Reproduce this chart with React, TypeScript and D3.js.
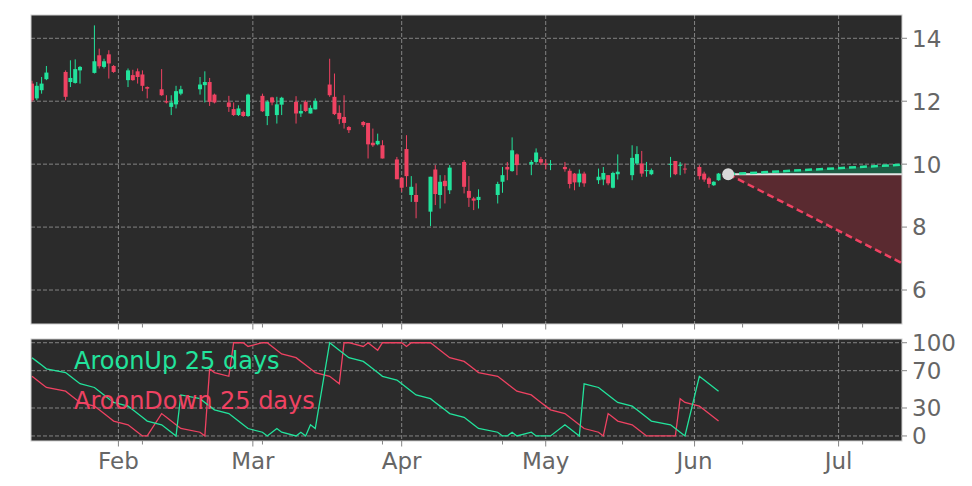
import React from "react";
import * as d3 from "d3";

const dates = [
  "2025-01-14","2025-01-15","2025-01-16","2025-01-17","2025-01-21","2025-01-22","2025-01-23","2025-01-24","2025-01-27","2025-01-28","2025-01-29","2025-01-30","2025-01-31",
  "2025-02-03","2025-02-04","2025-02-05","2025-02-06","2025-02-07","2025-02-10","2025-02-11","2025-02-12","2025-02-13","2025-02-14","2025-02-18","2025-02-19","2025-02-20","2025-02-21","2025-02-24","2025-02-25","2025-02-26","2025-02-27","2025-02-28",
  "2025-03-03","2025-03-04","2025-03-05","2025-03-06","2025-03-07","2025-03-10","2025-03-11","2025-03-12","2025-03-13","2025-03-14","2025-03-17","2025-03-18","2025-03-19","2025-03-20","2025-03-21","2025-03-24","2025-03-25","2025-03-26","2025-03-27","2025-03-28","2025-03-31",
  "2025-04-01","2025-04-02","2025-04-03","2025-04-04","2025-04-07","2025-04-08","2025-04-09","2025-04-10","2025-04-11","2025-04-14","2025-04-15","2025-04-16","2025-04-17","2025-04-21","2025-04-22","2025-04-23","2025-04-24","2025-04-25","2025-04-28","2025-04-29","2025-04-30",
  "2025-05-01","2025-05-02","2025-05-05","2025-05-06","2025-05-07","2025-05-08","2025-05-09","2025-05-12","2025-05-13","2025-05-14","2025-05-15","2025-05-16","2025-05-19","2025-05-20","2025-05-21","2025-05-22","2025-05-23","2025-05-27","2025-05-28","2025-05-29","2025-05-30",
  "2025-06-02","2025-06-03","2025-06-04","2025-06-05","2025-06-06",
];

const opens = [
  12.56, 12.09, 12.35, 12.70, 12.93, 12.61, 12.58, 12.98, 12.90, 13.46, 13.09, 13.49, 13.12,
  12.67, 12.83, 12.95, 12.85, 12.45, 12.38, 12.00, 11.82, 11.90, 12.24, 12.38, 12.51, 12.61, 12.21, 11.96, 11.75, 11.56, 11.66, 11.53,
  12.17, 11.53, 12.12, 11.56, 11.89, 11.98, 11.61, 11.98, 11.61, 11.74, 12.53, 12.14, 11.63, 11.50, 11.18, 11.34, 11.31, 10.68, 10.63, 10.60, 10.15,
  9.57, 10.48, 9.02, 9.02, 8.49, 9.83, 9.02, 9.47, 9.17, 10.07, 9.15, 8.91, 8.86, 9.02, 9.44, 9.91, 9.78, 10.31, 9.99, 10.07, 10.16,
  10.02, 9.98, 9.91, 9.79, 9.70, 9.42, 9.70, 9.49, 9.51, 9.65, 9.25, 9.68, 9.65, 10.02, 10.02, 9.79, 9.68, 9.98, 10.10, 9.95, 9.86,
  9.91, 9.70, 9.55, 9.33, 9.49,
];

const closes = [
  12.03, 12.49, 12.56, 12.91, 12.14, 12.74, 13.02, 13.09, 13.27, 13.11, 13.27, 13.20, 12.93,
  12.98, 12.67, 12.77, 12.49, 12.40, 12.19, 11.96, 11.96, 12.32, 12.38, 12.53, 12.61, 11.98, 11.96, 11.82, 11.56, 11.77, 11.53, 12.21,
  11.68, 11.98, 11.96, 11.90, 12.11, 11.61, 11.69, 11.69, 11.79, 12.01, 12.19, 11.59, 11.43, 11.31, 11.08, 11.24, 10.63, 10.60, 10.74, 10.18, 9.52,
  9.25, 9.62, 9.28, 8.80, 9.60, 9.05, 9.44, 9.30, 9.89, 9.28, 8.93, 8.84, 8.96, 9.37, 9.65, 9.83, 10.44, 9.97, 10.07, 10.37, 10.05,
  9.98, 10.01, 9.84, 9.37, 9.42, 9.70, 9.39, 9.60, 9.72, 9.39, 9.72, 9.76, 10.20, 10.32, 9.70, 9.81, 9.81, 10.01, 9.68, 9.98, 9.83,
  9.62, 9.51, 9.37, 9.44, 9.70,
];

const highs = [
  12.65, 12.61, 12.77, 13.12, 12.98, 13.30, 13.33, 13.12, 14.41, 13.67, 13.35, 13.62, 13.15,
  13.04, 13.00, 13.04, 12.98, 12.47, 13.02, 12.19, 12.19, 12.49, 12.49, 12.77, 12.95, 12.74, 12.24, 12.17, 11.96, 11.87, 11.70, 12.24,
  12.24, 12.03, 12.14, 12.14, 12.14, 12.16, 11.90, 12.03, 11.87, 12.09, 13.35, 12.88, 11.87, 12.19, 11.21, 11.37, 11.31, 11.13, 10.97, 10.76, 10.23,
  9.57, 10.92, 9.62, 9.39, 9.60, 9.97, 9.65, 9.65, 9.97, 10.13, 9.62, 8.96, 9.20, 9.44, 9.91, 10.07, 10.85, 10.34, 10.13, 10.50, 10.23,
  10.15, 10.13, 10.07, 9.86, 9.72, 9.83, 9.76, 9.86, 9.91, 9.65, 9.76, 10.31, 10.60, 10.57, 10.42, 10.07, 9.86, 10.23, 10.10, 10.07, 10.02,
  9.97, 9.76, 9.60, 9.46, 9.72,
];

const lows = [
  11.98, 12.03, 12.24, 12.67, 12.03, 12.45, 12.56, 12.56, 12.88, 13.04, 13.04, 12.72, 12.90,
  12.45, 12.65, 12.56, 12.32, 12.09, 12.17, 11.93, 11.56, 11.77, 12.19, 12.21, 11.96, 11.85, 11.93, 11.66, 11.53, 11.53, 11.50, 11.50,
  11.66, 11.24, 11.87, 11.29, 11.56, 11.29, 11.50, 11.66, 11.61, 11.74, 12.14, 11.56, 11.27, 11.13, 10.99, 11.18, 10.18, 10.55, 10.60, 10.18, 9.52,
  9.12, 9.28, 8.80, 8.28, 8.03, 8.70, 8.59, 8.75, 9.05, 9.07, 8.64, 8.54, 8.59, 8.75, 9.09, 9.49, 9.76, 9.65, 9.65, 10.02, 9.97,
  9.83, 9.81, 9.76, 9.23, 9.17, 9.28, 9.28, 9.37, 9.33, 9.33, 9.23, 9.51, 9.49, 9.97, 9.60, 9.60, 9.65, 9.58, 9.65, 9.65, 9.70,
  9.51, 9.44, 9.25, 9.31, 9.47,
];

const aroonUp = [
  84, 80, 76, 72, 68, 64, 60, 56, 52, 48, 44, 40, 36,
  32, 28, 24, 20, 16, 12, 8, 4, 0, 44, 40, 36, 32, 28, 24, 20, 16, 12, 8,
  4, 0, 4, 8, 4, 0, 4, 0, 12, 8, 100, 96, 92, 88, 84, 80, 76, 72, 68, 64, 60,
  56, 52, 48, 44, 40, 36, 32, 28, 24, 20, 16, 12, 8, 4, 0, 0, 4, 0, 4, 0, 0,
  0, 0, 12, 8, 4, 0, 56, 52, 48, 44, 40, 36, 32, 28, 24, 20, 16, 12, 8, 4, 0,
  64, 60, 56, 52, 48,
];

const aroonDown = [
  64, 60, 56, 52, 48, 44, 40, 36, 32, 28, 24, 20, 16,
  12, 8, 4, 0, 0, 24, 20, 16, 12, 8, 4, 0, 72, 68, 64, 100, 100, 100, 96,
  100, 100, 96, 92, 88, 84, 80, 76, 72, 68, 64, 60, 56, 100, 100, 96, 100, 96, 92, 100, 100,
  100, 96, 100, 100, 100, 96, 92, 88, 84, 80, 76, 72, 68, 64, 60, 56, 52, 48, 44, 40, 36,
  32, 28, 24, 20, 16, 12, 8, 4, 0, 24, 20, 16, 12, 8, 4, 0, 0, 0, 0, 40, 36,
  32, 28, 24, 20, 16,
];

const monthTicks = ["2025-02-01", "2025-03-01", "2025-04-01", "2025-05-01", "2025-06-01", "2025-07-01"];
const monthLabels = ["Feb", "Mar", "Apr", "May", "Jun", "Jul"];
const minorTicks = ["2025-02-06", "2025-03-03", "2025-03-28", "2025-04-22", "2025-05-17", "2025-06-11", "2025-07-06"];
const priceTicks = [6, 8, 10, 12, 14];
const aroonTicks = [0, 30, 70, 100];
const xRange = ["2025-01-14", "2025-07-14"];

const forecastDates = ["2025-06-08", "2025-07-15"];
const forecastBase = [9.68, 9.68];
const forecastUp = [9.68, 9.99];
const forecastDown = [9.68, 6.79];

const legendLabels = ["AroonUp 25 days", "AroonDown 25 days"];

const GREEN = "#22e39c";
const RED = "#ef4262";
const BG = "#2b2b2b";
const GRID = "#9a9a9a";
const TXT = "#666666";
const FONT = "DejaVu Sans, Liberation Sans, sans-serif";

const parse = d3.utcParse("%Y-%m-%d");

export default function App() {
  const L = 31, R = 902;
  const mT = 15, mB = 324;
  const lT = 339, lB = 441;

  const pd = dates.map((d) => parse(d) as Date);
  const x = d3
    .scaleUtc()
    .domain([d3.utcHour.offset(parse(xRange[0]) as Date, -5), d3.utcHour.offset(parse(xRange[1]) as Date, 5)])
    .range([L, R]);
  const y = d3.scaleLinear().domain([4.92, 14.74]).range([mB, mT]);
  const ya = d3.scaleLinear().domain([-5.4, 104]).range([lB, lT]);

  const bw = 4;

  const upLine = d3
    .line<number>()
    .x((_, i) => x(pd[i]))
    .y((d) => ya(d));

  const fd = forecastDates.map((d) => parse(d) as Date);
  const fLine = (vals: number[]) =>
    d3
      .line<number>()
      .x((_, i) => x(fd[i]))
      .y((d) => y(d))(vals) as string;
  const fArea = (vals: number[]) =>
    d3
      .area<number>()
      .x((_, i) => x(fd[i]))
      .y0((_, i) => y(forecastBase[i]))
      .y1((d) => y(d))(vals) as string;

  const mTicks = monthTicks.map((d) => x(parse(d) as Date));
  const nTicks = minorTicks.map((d) => x(parse(d) as Date));

  const grid = (top: number, bottom: number, ys: number[]) => (
    <g>
      {mTicks.map((tx, i) => (
        <line key={"v" + i} x1={tx} x2={tx} y1={top} y2={bottom} stroke={GRID} strokeWidth={0.8} strokeDasharray="4,2" />
      ))}
      {ys.map((ty, i) => (
        <line key={"h" + i} x1={L} x2={R} y1={ty} y2={ty} stroke={GRID} strokeWidth={0.8} strokeDasharray="4,2" />
      ))}
    </g>
  );

  const xTickMarks = (bottom: number) => (
    <g>
      {mTicks.map((tx, i) => (
        <line key={"mt" + i} x1={tx} x2={tx} y1={bottom} y2={bottom + 5.5} stroke={TXT} strokeWidth={0.8} />
      ))}
      {nTicks.map((tx, i) => (
        <line key={"nt" + i} x1={tx} x2={tx} y1={bottom} y2={bottom + 3.5} stroke={TXT} strokeWidth={0.8} />
      ))}
    </g>
  );

  return (
    <svg
      width={972}
      height={486}
      style={{ position: "absolute", left: 0, top: 0, background: "#ffffff" }}
      fontFamily={FONT}
    >
      <defs>
        <clipPath id="mainClip">
          <rect x={L} y={mT} width={R - L} height={mB - mT} />
        </clipPath>
        <clipPath id="lowClip">
          <rect x={L} y={lT} width={R - L} height={lB - lT} />
        </clipPath>
      </defs>

      {/* main panel */}
      <rect x={L} y={mT} width={R - L} height={mB - mT} fill={BG} />
      {grid(mT, mB, priceTicks.map((t) => y(t)))}

      <g clipPath="url(#mainClip)">
        {pd.map((d, i) => {
          const up = closes[i] >= opens[i];
          const c = up ? GREEN : RED;
          const cx = x(d);
          const top = y(Math.max(opens[i], closes[i]));
          const bot = y(Math.min(opens[i], closes[i]));
          return (
            <g key={i}>
              <line x1={cx} x2={cx} y1={y(highs[i])} y2={y(lows[i])} stroke={c} strokeWidth={1} />
              <rect x={cx - bw / 2} y={top} width={bw} height={Math.max(1, bot - top)} fill={c} />
            </g>
          );
        })}

        <path d={fArea(forecastDown)} fill="#5a2a30" />
        <path d={fArea(forecastUp)} fill="#1e5c44" />
        <path d={fLine(forecastBase)} stroke="#e6e6e6" strokeWidth={2} fill="none" />
        <path d={fLine(forecastUp)} stroke={GREEN} strokeWidth={2.5} strokeDasharray="7,4" fill="none" />
        <path d={fLine(forecastDown)} stroke={RED} strokeWidth={2.5} strokeDasharray="7,4" fill="none" />
        <circle cx={x(fd[0])} cy={y(forecastBase[0])} r={6} fill="#d9d9d9" />
      </g>
      <rect x={L} y={mT} width={R - L} height={mB - mT} fill="none" stroke="#d0d0d0" strokeWidth={1} />
      {xTickMarks(mB)}
      {priceTicks.map((t) => (
        <g key={"pt" + t}>
          <line x1={R} x2={R + 5} y1={y(t)} y2={y(t)} stroke={TXT} strokeWidth={0.8} />
          <text x={R + 10} y={y(t) + 8.4} fontSize={23} fill={TXT}>
            {t}
          </text>
        </g>
      ))}

      {/* aroon panel */}
      <rect x={L} y={lT} width={R - L} height={lB - lT} fill={BG} />
      {grid(lT, lB, aroonTicks.map((t) => ya(t)))}
      <g clipPath="url(#lowClip)">
        <path d={upLine(aroonDown) as string} stroke={RED} strokeWidth={1.3} fill="none" />
        <path d={upLine(aroonUp) as string} stroke={GREEN} strokeWidth={1.3} fill="none" />
      </g>
      <text x={74} y={369} fontSize={24} fill={GREEN}>
        {legendLabels[0]}
      </text>
      <text x={74} y={409} fontSize={24} fill={RED}>
        {legendLabels[1]}
      </text>
      <rect x={L} y={lT} width={R - L} height={lB - lT} fill="none" stroke="#d0d0d0" strokeWidth={1} />
      {xTickMarks(lB)}
      {aroonTicks.map((t) => (
        <g key={"at" + t}>
          <line x1={R} x2={R + 5} y1={ya(t)} y2={ya(t)} stroke={TXT} strokeWidth={0.8} />
          <text x={R + 10} y={ya(t) + 8.4} fontSize={23} fill={TXT}>
            {t}
          </text>
        </g>
      ))}
      {monthLabels.map((m, i) => (
        <text key={m} x={mTicks[i]} y={469} fontSize={23} fill={TXT} textAnchor="middle">
          {m}
        </text>
      ))}
    </svg>
  );
}
